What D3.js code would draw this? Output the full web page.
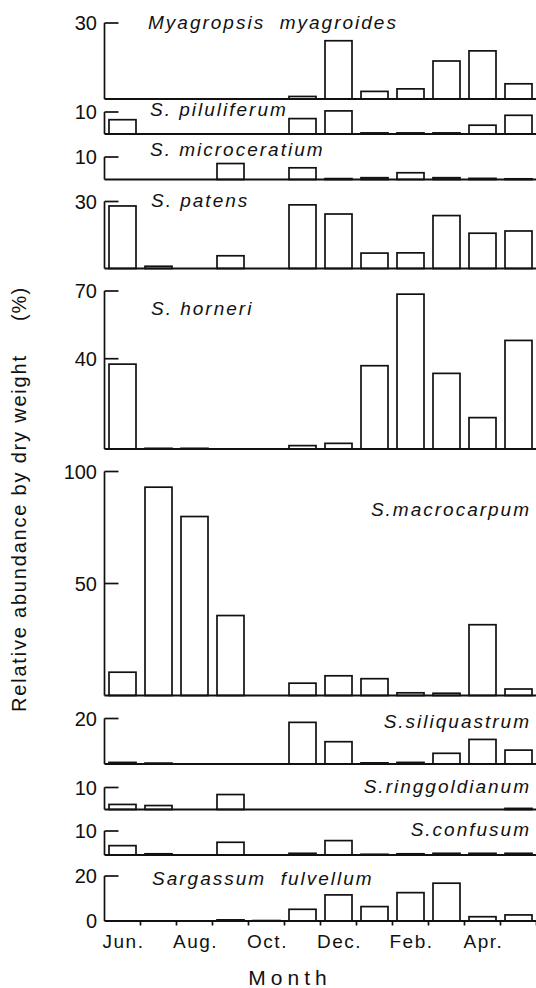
<!DOCTYPE html>
<html>
<head>
<meta charset="utf-8">
<script src="https://cdn.jsdelivr.net/npm/d3@7"></script>
<style>
  html, body { margin: 0; padding: 0; background: #fff; }
  svg { display: block; }
  text { font-family: "Liberation Sans", Arial, sans-serif; fill: #111; }
</style>
</head>
<body>
<svg id="chart" width="536" height="988"></svg>
<script>
// ---------- data ----------
const months = ["Jun","Jul","Aug","Sep","Oct","Nov","Dec","Jan","Feb","Mar","Apr","May"];
const monthTickLabels = ["Jun.","","Aug.","","Oct.","","Dec.","","Feb.","","Apr.",""];

const speciesNames = [
  "Myagropsis  myagroides",
  "S. piluliferum",
  "S. microceratium",
  "S. patens",
  "S. horneri",
  "S.macrocarpum",
  "S.siliquastrum",
  "S.ringgoldianum",
  "S.confusum",
  "Sargassum  fulvellum"
];

const myagroides     = [0, 0, 0, 0, 0, 1, 23, 3, 4, 15, 19, 6];
const piluliferum    = [6.5, 0, 0, 0, 0, 7, 10.5, 0.5, 0.5, 0.5, 4, 8.5];
const microceratium  = [0, 0, 0, 7.1, 0, 5.2, 0.4, 0.8, 3, 0.8, 0.5, 0.3];
const patens         = [28, 1, 0, 5.7, 0, 28.5, 24.4, 6.9, 7, 23.7, 15.8, 16.8];
const horneri        = [37.6, 0.3, 0.3, 0, 0, 1.5, 2.5, 36.9, 68.6, 33.5, 13.9, 48.1];
const macrocarpum    = [10.4, 93, 79.9, 35.7, 0, 5.5, 8.8, 7.5, 1.2, 1, 31.6, 2.9];
const siliquastrum   = [0.7, 0.4, 0, 0, 0, 18.3, 9.8, 0.5, 0.7, 4.7, 10.8, 6.1];
const ringgoldianum  = [2.3, 1.8, 0, 6.8, 0, 0, 0, 0, 0, 0, 0, 0.5];
const confusum       = [3.9, 0.5, 0, 5.3, 0, 0.7, 6, 0.3, 0.5, 0.7, 0.7, 0.7];
const fulvellum      = [0, 0, 0, 0.5, 0.2, 5.2, 11.6, 6.4, 12.6, 16.8, 1.9, 2.7];

const seriesValues = [myagroides, piluliferum, microceratium, patens, horneri,
                      macrocarpum, siliquastrum, ringgoldianum, confusum, fulvellum];

// y-axis ticks labelled in each panel
const yTickValues = [[30], [10], [10], [30], [40, 70], [50, 100], [20], [10], [10], [0, 20]];

const yTitle = "Relative abundance by dry weight";
const yUnit = "(%)";
const xTitle = "Month";

// ---------- layout (pixels) ----------
const panelLayout = [
  { base: 99,    top: 23,    labelX: 148, labelY: 29,  anchor: "start" },
  { base: 134,   top: 112,   labelX: 150, labelY: 116, anchor: "start" },
  { base: 179.5, top: 157,   labelX: 150, labelY: 156, anchor: "start" },
  { base: 268.5, top: 201.5, labelX: 151, labelY: 207, anchor: "start" },
  { base: 449,   top: 291,   labelX: 151, labelY: 315, anchor: "start" },
  { base: 695.5, top: 471.5, labelX: 531, labelY: 516, anchor: "end" },
  { base: 764,   top: 718.5, labelX: 531, labelY: 728, anchor: "end" },
  { base: 809.5, top: 787.5, labelX: 531, labelY: 793, anchor: "end" },
  { base: 855,   top: 831,   labelX: 531, labelY: 836, anchor: "end" },
  { base: 921,   top: 876,   labelX: 152, labelY: 885, anchor: "start" }
];

const axisX = 104.5;
const svg = d3.select("#chart");

const x = d3.scaleBand()
  .domain(months)
  .range([axisX, 536.5])
  .paddingInner(0.25)
  .paddingOuter(0.125);

const stroke = "#111";
const sw = 1.7;

seriesValues.forEach((vals, i) => {
  const L = panelLayout[i];
  const topVal = d3.max(yTickValues[i]);
  const y = d3.scaleLinear().domain([0, topVal]).range([L.base, L.top]);
  const g = svg.append("g");

  const data = months.map((m, j) => ({ m, v: vals[j] })).filter(d => d.v > 0);
  g.selectAll("rect.bar").data(data).enter().append("rect")
    .attr("class", "bar")
    .attr("x", d => x(d.m))
    .attr("width", x.bandwidth())
    .attr("y", d => y(d.v))
    .attr("height", d => Math.max(0.01, y(0) - y(d.v)))
    .attr("fill", "#fff")
    .attr("stroke", stroke)
    .attr("stroke-width", sw);

  g.append("line")
    .attr("x1", axisX).attr("x2", 536)
    .attr("y1", y(0)).attr("y2", y(0))
    .attr("stroke", stroke).attr("stroke-width", sw + 0.2);

  g.append("line")
    .attr("x1", axisX).attr("x2", axisX)
    .attr("y1", y(topVal)).attr("y2", y(0))
    .attr("stroke", stroke).attr("stroke-width", sw);

  yTickValues[i].forEach(t => {
    if (t > 0) {
      g.append("line")
        .attr("x1", axisX).attr("x2", axisX + 14)
        .attr("y1", y(t)).attr("y2", y(t))
        .attr("stroke", stroke).attr("stroke-width", sw);
    }
    g.append("text")
      .attr("x", 97)
      .attr("y", y(t))
      .attr("dy", "0.36em")
      .attr("text-anchor", "end")
      .attr("font-size", 20)
      .text(t);
  });

  g.append("text")
    .attr("x", L.labelX)
    .attr("y", L.labelY)
    .attr("text-anchor", L.anchor)
    .attr("font-size", 19)
    .attr("font-style", "italic")
    .attr("letter-spacing", "2px")
    .attr("xml:space", "preserve")
    .style("white-space", "pre")
    .text(speciesNames[i]);
});

// bottom axis ticks at band boundaries
const lastBase = panelLayout[panelLayout.length - 1].base;
const half = (x.step() - x.bandwidth()) / 2;
svg.append("g").selectAll("line").data(months).enter().append("line")
  .attr("x1", d => x(d) + x.bandwidth() + half)
  .attr("x2", d => x(d) + x.bandwidth() + half)
  .attr("y1", lastBase)
  .attr("y2", lastBase + 4.5)
  .attr("stroke", stroke).attr("stroke-width", sw);

svg.append("g").selectAll("text").data(months).enter().append("text")
  .attr("x", d => x(d) + x.bandwidth() / 2 + 1)
  .attr("y", 948)
  .attr("text-anchor", "middle")
  .attr("font-size", 19)
  .attr("letter-spacing", "1.5px")
  .text((d, j) => monthTickLabels[j]);

svg.append("text")
  .attr("x", 290)
  .attr("y", 985)
  .attr("text-anchor", "middle")
  .attr("font-size", 21)
  .attr("letter-spacing", "5px")
  .text(xTitle);

svg.append("text")
  .attr("transform", "translate(26,712) rotate(-90)")
  .attr("text-anchor", "start")
  .attr("font-size", 20)
  .attr("letter-spacing", "1.8px")
  .attr("xml:space", "preserve")
  .style("white-space", "pre")
  .text(yTitle);

svg.append("text")
  .attr("transform", "translate(26,304) rotate(-90)")
  .attr("text-anchor", "middle")
  .attr("font-size", 20)
  .attr("letter-spacing", "1px")
  .text(yUnit);
</script>
</body>
</html>
